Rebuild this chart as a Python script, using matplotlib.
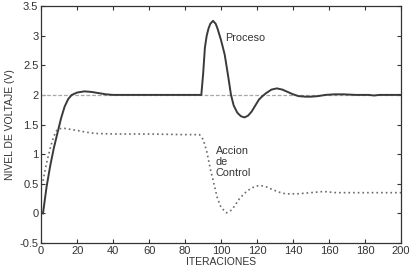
import matplotlib.pyplot as plt

plt.rcParams['font.family'] = ['Liberation Sans', 'DejaVu Sans']

# Proceso (salida del sistema)
proc_x = [1, 3, 5, 7, 9, 11, 13, 15, 17, 20, 24, 28, 32, 36, 40, 60, 89,
          90, 91, 92, 93, 94, 95.5, 97, 98, 100, 102, 104, 105.5, 107, 109,
          111, 113, 115, 117, 119, 121, 123, 125, 128, 131, 134, 137, 140,
          143, 147, 150, 154, 158, 163, 168, 175, 182, 185, 188, 200]
proc_y = [0.0, 0.45, 0.8, 1.1, 1.35, 1.6, 1.8, 1.93, 2.0, 2.04, 2.06, 2.05,
          2.03, 2.01, 2.0, 2.0, 2.0,
          2.35, 2.8, 3.0, 3.12, 3.2, 3.25, 3.2, 3.12, 2.92, 2.68, 2.3, 2.0,
          1.82, 1.7, 1.64, 1.62, 1.65, 1.72, 1.82, 1.92, 1.98, 2.03, 2.09,
          2.11, 2.09, 2.05, 2.01, 1.98, 1.97, 1.97, 1.98, 2.0, 2.01, 2.01,
          2.0, 2.0, 1.99, 2.0, 2.0]

# Accion de control
ctrl_x = [1, 3, 5, 7, 9, 12, 16, 20, 25, 30, 40, 60, 80, 88, 90, 92, 94, 96,
          98, 100, 103, 106, 108, 110, 113, 116, 119, 122, 125, 128, 132,
          136, 142, 150, 157, 164, 180, 200]
ctrl_y = [0.55, 0.85, 1.1, 1.3, 1.42, 1.44, 1.42, 1.4, 1.37, 1.35, 1.34,
          1.34, 1.33, 1.33, 1.25, 1.05, 0.75, 0.5, 0.25, 0.1, 0.01, 0.06,
          0.15, 0.24, 0.34, 0.41, 0.46, 0.47, 0.45, 0.41, 0.36, 0.33, 0.33,
          0.35, 0.37, 0.35, 0.35, 0.35]

# referencia
ref_x = [0, 200]
ref_y = [2, 2]

x_ticks = list(range(0, 201, 20))
y_ticks = [-0.5, 0, 0.5, 1, 1.5, 2, 2.5, 3, 3.5]
y_tick_labels = ['-0.5', '0', '0.5', '1', '1.5', '2', '2.5', '3', '3.5']

fig = plt.figure(figsize=(4.16, 2.74), dpi=100)
ax = fig.add_axes([0.099, 0.113, 0.865, 0.865])

ax.plot(ref_x, ref_y, color='#a8a8a8', lw=0.9, linestyle=(0, (3, 1.5)))
ax.plot(proc_x, proc_y, color='#3a3a3a', lw=1.4)
ax.plot(ctrl_x, ctrl_y, color='#6a6a6a', lw=1.2, linestyle=(0, (1, 1.8)))

ax.text(102.5, 2.96, 'Proceso', fontsize=7.8, color='#333333', va='center')
ax.text(97, 1.13, 'Accion\nde\nControl', fontsize=7.8, color='#333333',
        va='top', linespacing=1.1)

ax.set_xlim(0, 200)
ax.set_ylim(-0.5, 3.5)
ax.set_xticks(x_ticks)
ax.set_yticks(y_ticks)
ax.set_yticklabels(y_tick_labels)
ax.tick_params(direction='in', top=True, right=True, labelsize=8,
               colors='#333333', length=3, width=0.8, pad=2)
for s in ax.spines.values():
    s.set_color('#333333')
    s.set_linewidth(0.9)

ax.set_xlabel('ITERACIONES', fontsize=7.5, color='#333333', labelpad=1)
ax.set_ylabel('NIVEL DE VOLTAJE (V)', fontsize=7.5, color='#333333', labelpad=3)

fig.savefig('out.png', dpi=100)
